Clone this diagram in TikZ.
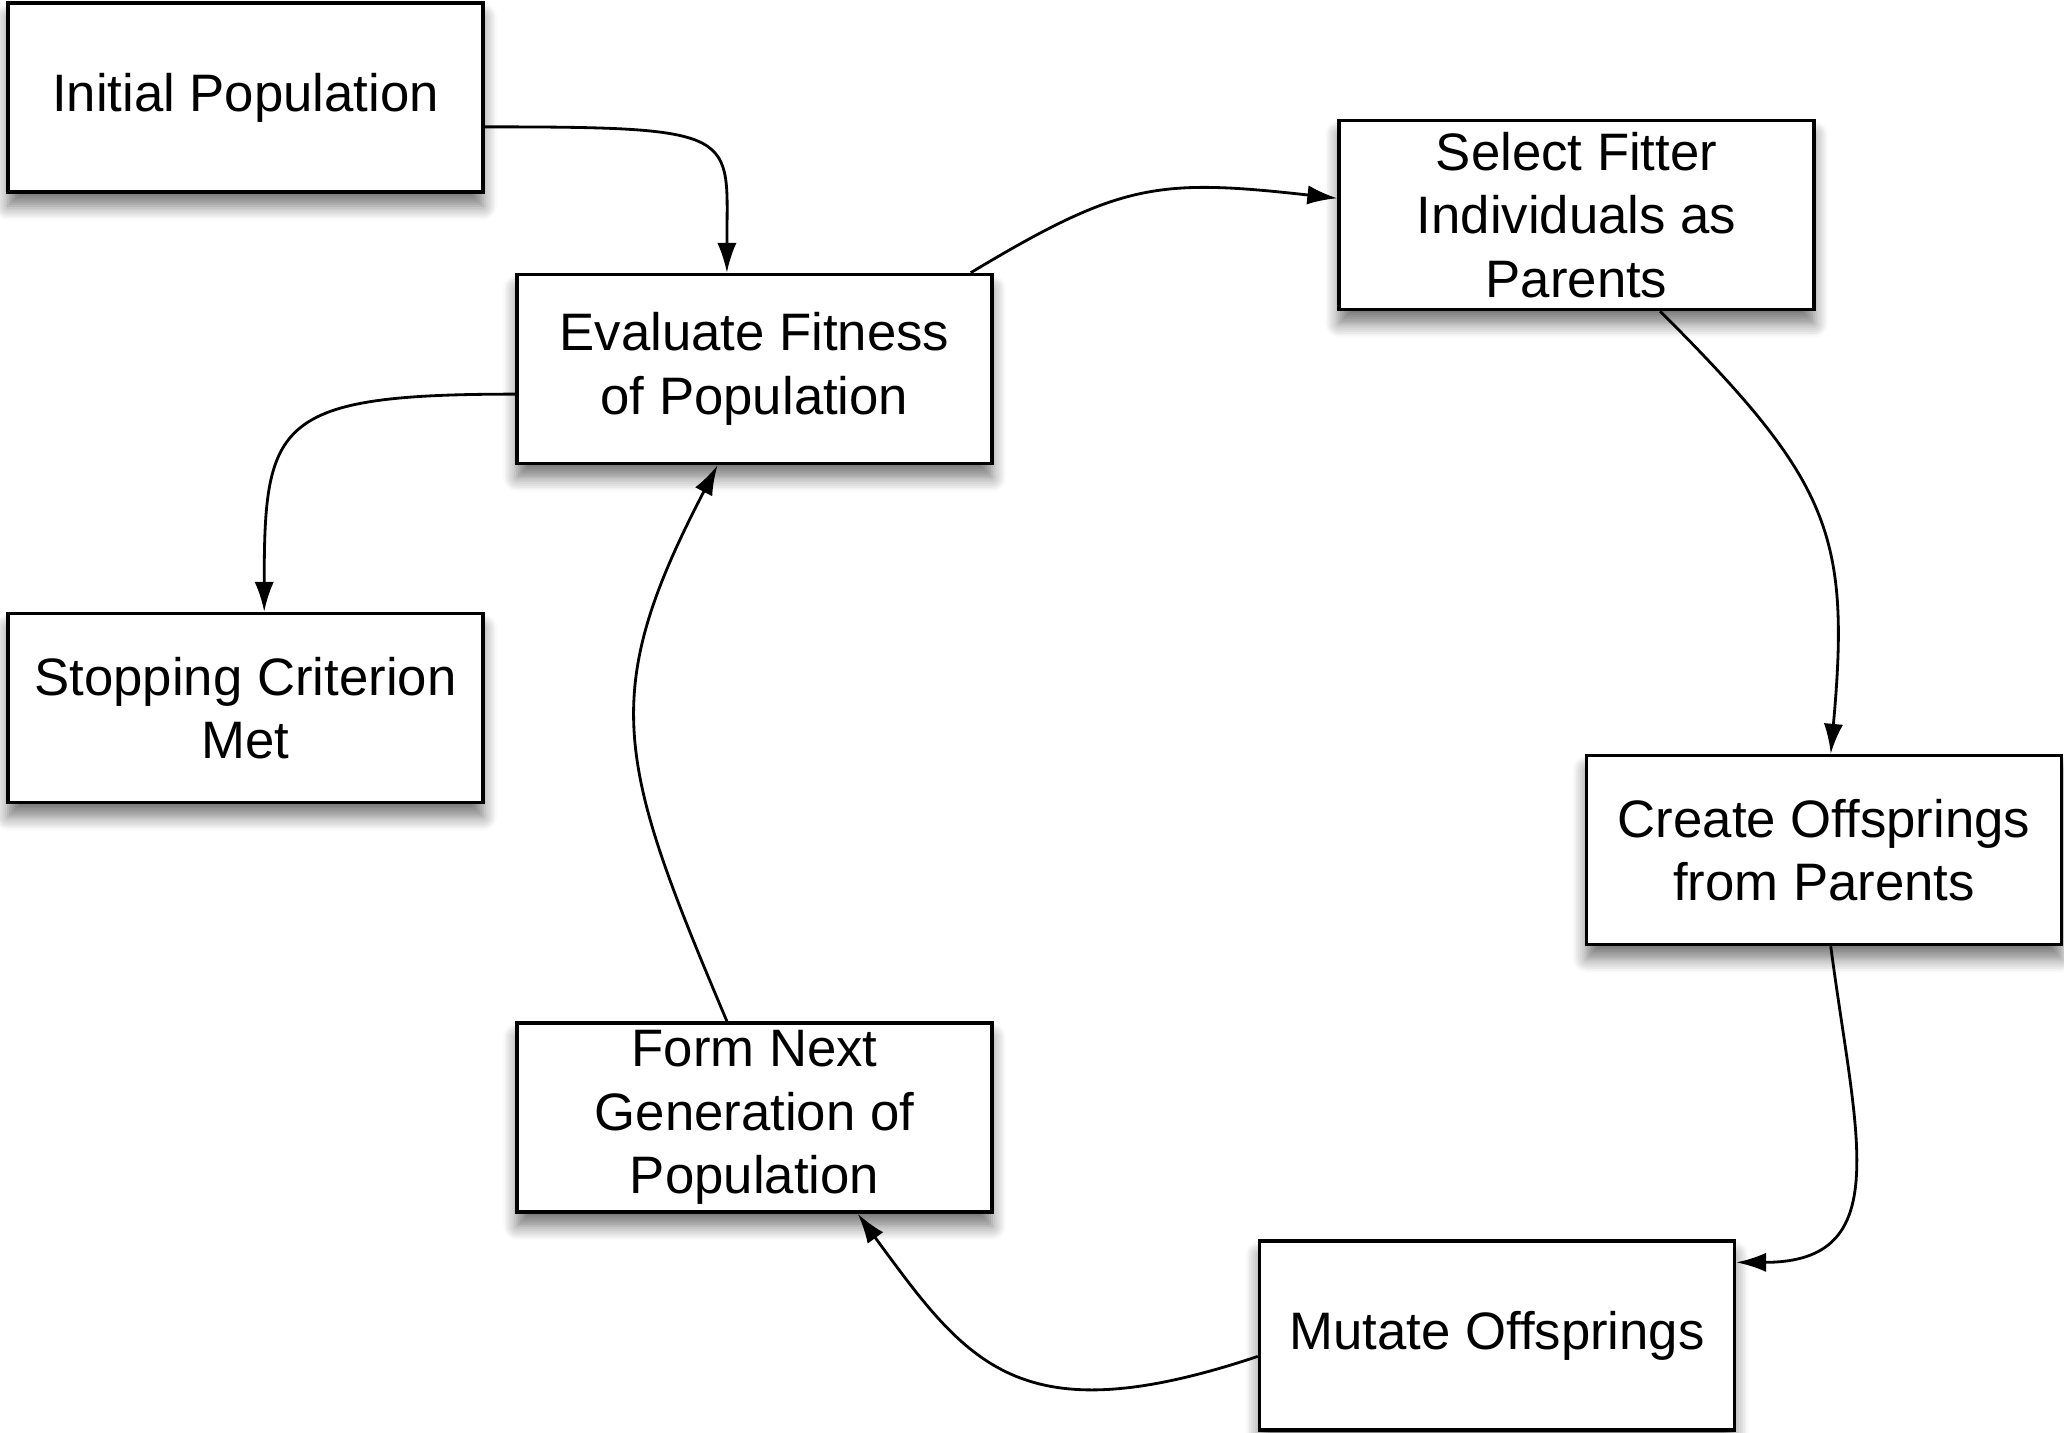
\documentclass[tikz,border=0pt]{standalone}
\usepackage{fontspec}
\setmainfont{Liberation Sans}
\usepackage{tikz}
\usetikzlibrary{shadows.blur, arrows.meta}
\newcommand{\BW}{4.75cm}
\newcommand{\BH}{1.89cm}

\begin{document}
\begin{tikzpicture}[scale=1,
        stepbox/.style={draw, line width=1pt, fill=white, minimum width=\BW, minimum height=\BH,
            inner sep=0pt, align=center, font=\fontsize{15}{18}\selectfont,
            blur shadow={shadow xshift=0pt, shadow yshift=-4pt, shadow blur radius=4pt,
                shadow blur steps=8, shadow opacity=55}},
        flow/.style={line width=0.8pt, -{Latex[length=8.5pt,width=5.5pt]}}]
            \useasboundingbox (0,0) rectangle (20.64,-14.33);

            % the steps of the loop
            \path (2.455,-0.975) node (init) [stepbox]{Initial Population};
            \path (7.545,-3.69) node (eval) [stepbox]{Evaluate Fitness\\of Population};
            \path (2.455,-7.08) node (stop) [stepbox]{Stopping Criterion\\Met};
            \path (15.765,-2.15) node (sel) [stepbox]{Select Fitter\\Individuals as\\Parents};
            \path (18.24,-8.50) node (cre) [stepbox]{Create Offsprings\\from Parents};
            \path (14.97,-13.355) node (mut) [stepbox]{Mutate Offsprings};
            \path (7.545,-11.175) node (form) [stepbox]{Form Next\\Generation of\\Population};

            % connectors
            \draw [flow] (init.-7) .. controls +(2.6,0) and +(0,1.4) .. (eval.106);
            \draw [flow] (eval.186) .. controls +(-2.4,0) and +(0,1.9) .. (stop.79);
            \draw [flow] (eval.24) .. controls +(1.5,0.9) and +(-1.8,0.2) .. (sel.176);
            \draw [flow] (sel.-49) .. controls +(1.7,-1.7) and +(0.2,2.2) .. (cre.86);
            \draw [flow] (cre.-86) .. controls +(0.25,-1.9) and +(1.6,0) .. (mut.17);
            \draw [flow] (mut.185) .. controls +(-2.4,-0.8) and +(1.1,-1.5) .. (form.-43);
            \draw [flow] (form.106) .. controls +(-1.1,2.6) and +(-1.2,-2.3) .. (eval.-111);

        \end{tikzpicture}
\end{document}
